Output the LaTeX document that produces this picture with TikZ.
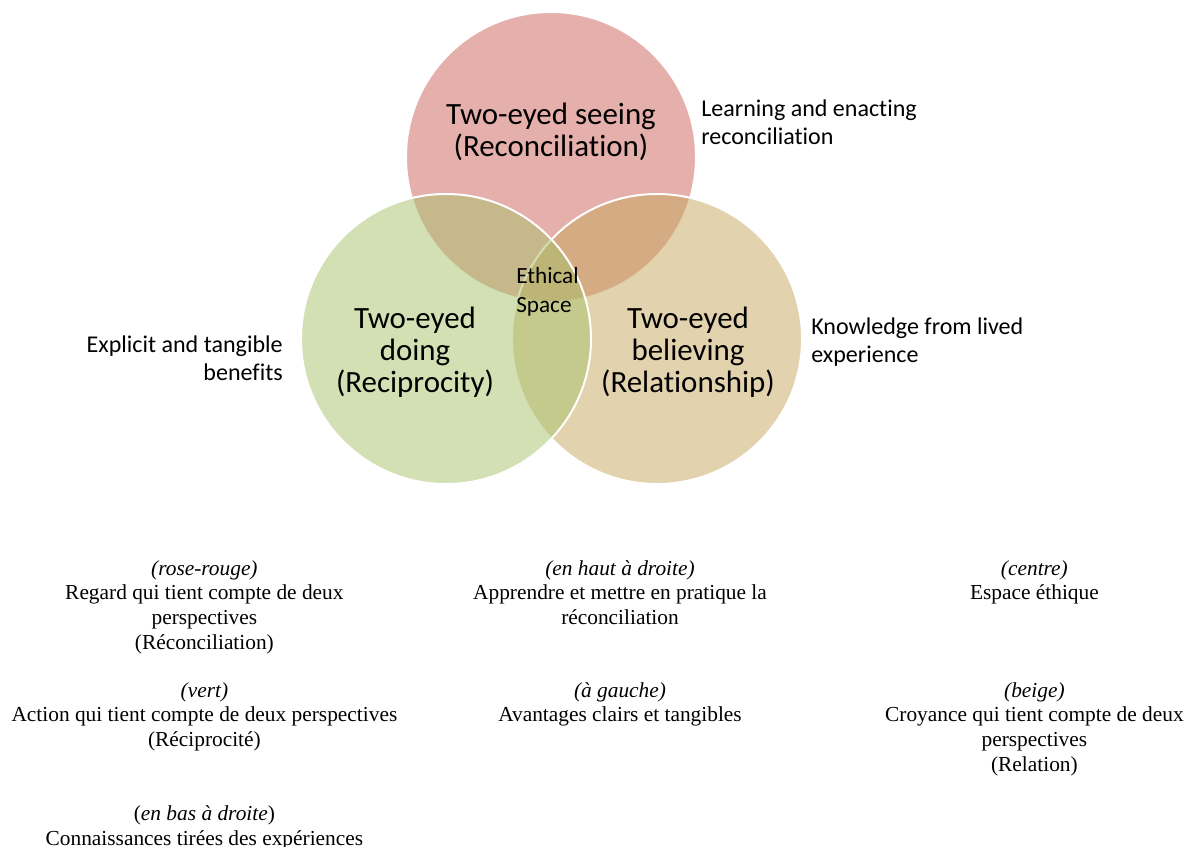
\documentclass[tikz,border=0pt]{standalone}
\usepackage{fontspec}
\setmainfont{Liberation Serif}
\newfontfamily\calibri[Ligatures=NoCommon]{Carlito}
\usetikzlibrary{positioning}

\definecolor{venred}{RGB}{203,97,89}
\definecolor{vengreen}{RGB}{167,193,105}
\definecolor{venbeige}{RGB}{197,167,93}

\begin{document}
\begin{tikzpicture}[
        venn/.style={draw=white, line width=1.4pt, fill opacity=0.5},
        big/.style={align=center, font=\calibri\fontsize{22}{22.8}\selectfont, inner sep=0pt},
        side/.style={font=\calibri\fontsize{17.1}{19.9}\selectfont, inner sep=0pt},
        fr/.style={align=center, font=\fontsize{15.2}{17.6}\selectfont, inner sep=0pt, anchor=north}
      ]
      \useasboundingbox (0,0) rectangle (29.65,21.15);

      % the three circles
      \draw[venn, fill=venred] (13.775,17.225) circle (3.625);
      \draw[venn, fill=venbeige] (16.425,12.675) circle (3.625);
      \draw[venn, fill=vengreen] (11.15,12.675) circle (3.625);

      \node[big] (seeing) at (13.775,17.86) {Two-eyed seeing\\(Reconciliation)};
      \node[big] (doing) at (10.375,12.35) {Two-eyed\\doing\\(Reciprocity)};
      \node[big] (believing) at (17.2,12.35) {Two-eyed\\believing\\(Relationship)};
      \node[side, align=left, font=\calibri\fontsize{16.5}{20.6}\selectfont, anchor=west] (ethical) at (12.9,13.85) {Ethical\\Space};

      \node[side, align=left, anchor=west] (learning) at (17.525,18.1) {Learning and enacting\\reconciliation};
      \node[side, align=left, anchor=west] (knowledge) at (20.275,12.6) {Knowledge from lived\\experience};
      \node[side, align=right, anchor=east] (explicit) at (7.075,12.2) {Explicit and tangible\\benefits};

      % French translations
      \node[fr] (rose) at (5.11,7.15) {\textit{(rose-rouge)}\\Regard qui tient compte de deux\\perspectives\\(Réconciliation)};
      \node[fr] (vert) at (5.11,4.1) {\textit{(vert)}\\Action qui tient compte de deux perspectives\\(Réciprocité)};
      \node[fr] (basdroite) at (5.11,1.02) {(\textit{en bas à droite})\\Connaissances tirées des expériences};
      \node[fr] (hautdroite) at (15.5,7.15) {\textit{(en haut à droite)}\\Apprendre et mettre en pratique la\\réconciliation};
      \node[fr] (gauche) at (15.5,4.1) {\textit{(à gauche)}\\Avantages clairs et tangibles};
      \node[fr] (centre) at (25.86,7.15) {\textit{(centre)}\\Espace éthique};
      \node[fr] (beige) at (25.86,4.1) {\textit{(beige)}\\Croyance qui tient compte de deux\\perspectives\\(Relation)};
    \end{tikzpicture}
\end{document}
